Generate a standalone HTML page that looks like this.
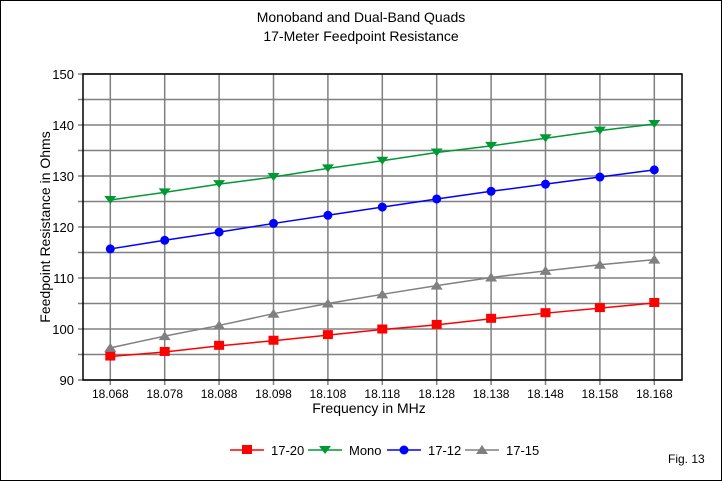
<!DOCTYPE html>
<html><head><meta charset="utf-8"><style>
body{margin:0;background:#fff}
svg{display:block;font-family:"Liberation Sans",Arial,sans-serif}
</style></head><body>
<svg id="chart" width="722" height="481">
<rect x="0.5" y="0.5" width="721" height="480" fill="#fff" stroke="#000"/>
<text x="361" y="22" font-size="14" text-anchor="middle">Monoband and Dual-Band Quads</text>
<text x="361" y="41" font-size="14" text-anchor="middle">17-Meter Feedpoint Resistance</text>
<g id="grid"></g>
<g id="series"></g>
<rect x="83" y="74" width="599" height="306" fill="none" stroke="#000" stroke-width="1.5"/>
<text x="369" y="413" font-size="14" text-anchor="middle">Frequency in MHz</text>
<text transform="translate(50,227) rotate(-90)" font-size="14" text-anchor="middle">Feedpoint Resistance in Ohms</text>
<g id="legend"></g>
<text x="668" y="463" font-size="12">Fig. 13</text>
</svg>
<script>
const categories=["18.068","18.078","18.088","18.098","18.108","18.118","18.128","18.138","18.148","18.158","18.168"];
const yTicks=[90,100,110,120,130,140,150];
const seriesNames=["17-20","Mono","17-12","17-15"];
const s1720=[94.6,95.5,96.7,97.7,98.8,99.9,100.8,102,103.1,104.1,105.1];
const sMono=[125.3,126.8,128.4,129.8,131.5,133,134.6,135.9,137.4,138.9,140.2];
const s1712=[115.7,117.4,119,120.7,122.3,123.9,125.5,127.0,128.4,129.8,131.2];
const s1715=[96.3,98.6,100.7,103,105,106.8,108.5,110.1,111.4,112.6,113.6];
const NS="http://www.w3.org/2000/svg";
const x0=110.3,dx=54.4,yBot=380,yTop=74,vMin=90,vMax=150;
function xs(i){return x0+i*dx;}
function ys(v){return yBot-(v-vMin)/(vMax-vMin)*(yBot-yTop);}
function mk(tag,attrs,parent){const e=document.createElementNS(NS,tag);for(const k in attrs)e.setAttribute(k,attrs[k]);parent.appendChild(e);return e;}
const grid=document.getElementById('grid');
for(let v=vMin;v<=vMax;v+=5){
  const l=mk('line',{x1:78,x2:682,y1:ys(v),y2:ys(v),stroke:'#808080','stroke-width':1.5},grid);
  
  
}
yTicks.forEach(v=>{
  const t=mk('text',{x:74,y:ys(v)+5,'font-size':13,'text-anchor':'end'},grid);
  t.textContent=v;
  
  
});
categories.forEach((c,i)=>{
  const l=mk('line',{x1:xs(i),x2:xs(i),y1:74,y2:385,stroke:'#808080','stroke-width':1.5},grid);
  
  
  const t=mk('text',{x:xs(i),y:398,'font-size':12,'text-anchor':'middle'},grid);
  t.textContent=c;
  
  
});
function marker(type,cx,cy,color,parent){
  let e;
  if(type==='sq')e=mk('rect',{x:cx-5,y:cy-5,width:10,height:9,fill:color},parent);
  else if(type==='dn')e=mk('polygon',{points:`${cx-6},${cy-4} ${cx+6},${cy-4} ${cx},${cy+4}`,fill:color},parent);
  else if(type==='ci')e=mk('circle',{cx:cx,cy:cy,r:4.5,fill:color},parent);
  else e=mk('polygon',{points:`${cx-6},${cy+4} ${cx+6},${cy+4} ${cx},${cy-5}`,fill:color},parent);
  return e;
}
const sg=document.getElementById('series');
const all=[[s1720,'#ff0000','sq','17-20'],[sMono,'#009933','dn','mono'],[s1712,'#0000ff','ci','17-12'],[s1715,'#808080','up','17-15']];
all.forEach(([d,col,m,nm])=>{
  const p=mk('polyline',{points:d.map((v,i)=>xs(i)+','+ys(v)).join(' '),fill:'none',stroke:col,'stroke-width':1.5},sg);
  
  
  d.forEach((v,i)=>{
    const e=marker(m,xs(i),ys(v),col,sg);
    
    
  });
});
const lg=document.getElementById('legend');
const lx=[230,308,387,465];
all.forEach(([d,col,m,nm],k)=>{
  const g=mk('g',{},lg);
  
  
  mk('line',{x1:lx[k],x2:lx[k]+34,y1:450,y2:450,stroke:col,'stroke-width':1.5},g);
  marker(m,lx[k]+17,450,col,g);
  const t=mk('text',{x:lx[k]+41,y:455,'font-size':13},g);
  t.textContent=seriesNames[k];
});
</script>
</body></html>
